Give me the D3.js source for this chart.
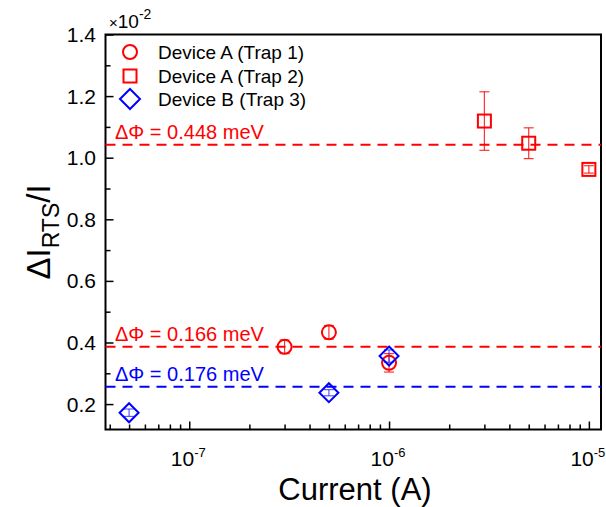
<!DOCTYPE html>
<html><head><meta charset="utf-8">
<script src="https://cdn.jsdelivr.net/npm/d3@7"></script>
<style>body{margin:0;background:#fff}svg{display:block}text{font-family:"Liberation Sans",Arial,sans-serif}</style>
</head><body><svg id="c" width="606" height="507"></svg>
<script>
const trap1X = [3e-7, 5e-7, 1e-6];
const trap1Y = [0.386, 0.433, 0.334];
const trap1E = [0.022, 0.022, 0.03];
const trap2X = [3e-6, 5e-6, 1e-5];
const trap2Y = [1.119, 1.047, 0.962];
const trap2E = [0.095, 0.05, 0.012];
const trap3X = [5e-8, 5e-7, 1e-6];
const trap3Y = [0.172, 0.237, 0.356];
const trap3E = [0.012, 0.01, 0.02];
const hLines = [1.042, 0.386, 0.256];
const hLabels = ["ΔΦ = 0.448 meV", "ΔΦ = 0.166 meV", "ΔΦ = 0.176 meV"];
const hColors = ["#ff0000", "#ff0000", "#0000ff"];
const yTicks = [0.2, 0.4, 0.6, 0.8, 1.0, 1.2, 1.4];
const xTicks = [1e-7, 1e-6, 1e-5];
const xTickExp = ["-7", "-6", "-5"];
const legendLabels = ["Device A (Trap 1)", "Device A (Trap 2)", "Device B (Trap 3)"];

const svg = d3.select("#c");
const L = 105.5, R = 601, T = 34.5, B = 429.5;
const x = d3.scaleLog().domain([3.81e-8, 1.15e-5]).range([L, R]);
const y = d3.scaleLinear().domain([0.1175, 1.4]).range([B, T]);

// axes with inward ticks
const yAxis = d3.axisLeft(y).tickValues(d3.range(0.2, 1.41, 0.1).map(v => +v.toFixed(2))).tickSize(-5).tickFormat("");
const yg = svg.append("g").attr("transform", `translate(${L},0)`).call(yAxis);
yg.selectAll(".tick line").attr("x2", d => (Math.round(d * 10) % 2 === 0) ? 8 : 5).attr("stroke-width", 1.5);
yg.select(".domain").remove();
yTicks.forEach(v => {
  svg.append("text").attr("x", 96).attr("y", y(v) + 7.5).attr("text-anchor", "end").attr("font-size", 21).text(v.toFixed(1));
});

const minorX = [];
for (let e = -8; e <= -5; e++) for (let m = 1; m <= 9; m++) { const v = m * Math.pow(10, e); if (v >= 3.81e-8 && v <= 1.15e-5) minorX.push(v); }
const xg = svg.append("g").attr("transform", `translate(0,${B})`).call(d3.axisBottom(x).tickValues(minorX).tickSize(-5).tickFormat(""));
xg.selectAll(".tick line").attr("y2", d => xTicks.some(t => Math.abs(t - d) / t < 1e-6) ? -8 : -5).attr("stroke-width", 1.5);
xg.select(".domain").remove();
xTicks.forEach((v, i) => {
  const t = svg.append("text").attr("x", x(v) - 1).attr("y", 466).attr("text-anchor", "middle").attr("font-size", 21);
  t.append("tspan").text("10");
  t.append("tspan").attr("dy", -9).attr("font-size", 13).text(xTickExp[i]);
});

svg.append("rect").attr("x", L).attr("y", T).attr("width", R - L).attr("height", B - T).attr("fill", "none").attr("stroke", "#000").attr("stroke-width", 2);

// multiplier
const mt = svg.append("text").attr("x", 109).attr("y", 28).attr("font-size", 19);
mt.append("tspan").attr("font-size", 15).text("×");
mt.append("tspan").text("10");
mt.append("tspan").attr("dy", -9).attr("font-size", 14).text("-2");

// dashed lines
hLines.forEach((v, i) => {
  svg.append("line").attr("x1", L).attr("x2", R).attr("y1", y(v)).attr("y2", y(v)).attr("stroke", hColors[i]).attr("stroke-width", 2).attr("stroke-dasharray", "10,7");
  svg.append("text").attr("x", 115).attr("y", y(v) - 6).attr("fill", hColors[i]).attr("font-size", 20).text(hLabels[i]);
});

function errBars(xs, ys, es, color) {
  xs.forEach((xv, i) => {
    const cx = x(xv), y1 = y(ys[i] + es[i]), y2 = y(ys[i] - es[i]);
    svg.append("line").attr("x1", cx).attr("x2", cx).attr("y1", y1).attr("y2", y2).attr("stroke", color).attr("stroke-width", 1.2).attr("opacity", 0.8);
    [y1, y2].forEach(yy => svg.append("line").attr("x1", cx - 5).attr("x2", cx + 5).attr("y1", yy).attr("y2", yy).attr("stroke", color).attr("stroke-width", 1.2).attr("opacity", 0.8));
  });
}
errBars(trap1X, trap1Y, trap1E, "#ff0000");
errBars(trap2X, trap2Y, trap2E, "#ff0000");
errBars(trap3X, trap3Y, trap3E, "#3333ff");

trap1X.forEach((xv, i) => svg.append("circle").attr("cx", x(xv)).attr("cy", y(trap1Y[i])).attr("r", 7).attr("fill", "none").attr("stroke", "#ff0000").attr("stroke-width", 2));
trap2X.forEach((xv, i) => svg.append("rect").attr("x", x(xv) - 6.5).attr("y", y(trap2Y[i]) - 6.5).attr("width", 13).attr("height", 13).attr("fill", "none").attr("stroke", "#ff0000").attr("stroke-width", 2));
const dia = (cx, cy, s) => `M${cx},${cy - s}L${cx + s},${cy}L${cx},${cy + s}L${cx - s},${cy}Z`;
trap3X.forEach((xv, i) => svg.append("path").attr("d", dia(x(xv), y(trap3Y[i]), 9.5)).attr("fill", "none").attr("stroke", "#0000ff").attr("stroke-width", 2));

// legend
const ly = [52, 76, 99];
svg.append("circle").attr("cx", 130).attr("cy", ly[0]).attr("r", 7).attr("fill", "none").attr("stroke", "#ff0000").attr("stroke-width", 2);
svg.append("rect").attr("x", 123.5).attr("y", ly[1] - 6.5).attr("width", 13).attr("height", 13).attr("fill", "none").attr("stroke", "#ff0000").attr("stroke-width", 2);
svg.append("path").attr("d", dia(130, ly[2], 10)).attr("fill", "none").attr("stroke", "#0000ff").attr("stroke-width", 2);
legendLabels.forEach((t, i) => svg.append("text").attr("x", 158).attr("y", ly[i] + 7).attr("font-size", 19).text(t));

// axis titles
svg.append("text").attr("x", 355).attr("y", 500).attr("text-anchor", "middle").attr("font-size", 31).text("Current (A)");
const yt = svg.append("text").attr("transform", "translate(50,232) rotate(-90)").attr("text-anchor", "middle").attr("font-size", 33);
yt.append("tspan").text("ΔI");
yt.append("tspan").attr("dy", 9).attr("font-size", 23).text("RTS");
yt.append("tspan").attr("dy", -9).text("/I");
</script></body></html>
